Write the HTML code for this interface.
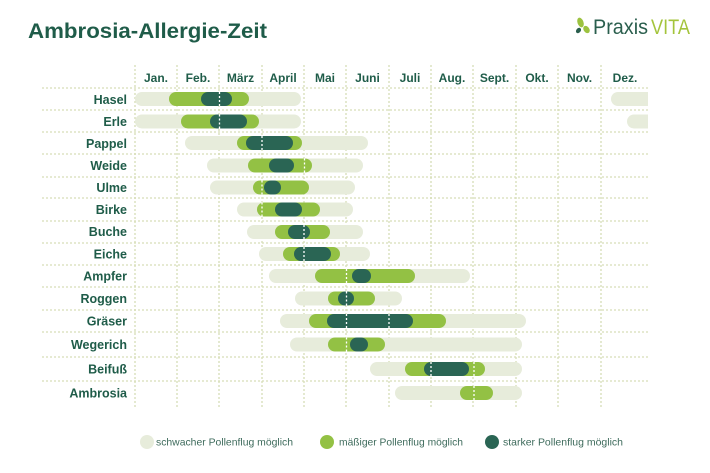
<!DOCTYPE html>
<html><head><meta charset="utf-8"><style>
html,body{margin:0;padding:0;background:#fff;}
svg{display:block;}
text{font-family:"Liberation Sans",sans-serif;}
</style></head><body>
<svg width="710" height="473" viewBox="0 0 710 473" xmlns="http://www.w3.org/2000/svg">
<rect width="710" height="473" fill="#fff"/>
<text x="28" y="38" font-size="21" font-weight="bold" fill="#1f5c49" textLength="239" lengthAdjust="spacingAndGlyphs">Ambrosia-Allergie-Zeit</text>
<!-- logo -->
<ellipse cx="580.5" cy="22.5" rx="3" ry="5" fill="#9cc23f" transform="rotate(-20 580.5 22.5)"/>
<ellipse cx="578.5" cy="30.5" rx="2.2" ry="3" fill="#2a5e4d" transform="rotate(40 578.5 30.5)"/>
<ellipse cx="586.5" cy="29.5" rx="2.8" ry="4" fill="#9cc23f" transform="rotate(-35 586.5 29.5)"/>
<text x="593" y="34" font-size="21" fill="#2a5e4d" textLength="55" lengthAdjust="spacingAndGlyphs">Praxis</text>
<text x="651" y="34" font-size="21" fill="#a4c43c" textLength="39" lengthAdjust="spacingAndGlyphs">VITA</text>
<!-- grid -->
<g stroke="#d6ddb6" stroke-width="1.3" stroke-dasharray="2 2" fill="none">
<line x1="135" y1="65" x2="135" y2="408"/><line x1="177" y1="65" x2="177" y2="408"/>
<line x1="219" y1="65" x2="219" y2="408"/><line x1="262" y1="65" x2="262" y2="408"/>
<line x1="304" y1="65" x2="304" y2="408"/><line x1="346" y1="65" x2="346" y2="408"/>
<line x1="389" y1="65" x2="389" y2="408"/><line x1="431" y1="65" x2="431" y2="408"/>
<line x1="473" y1="65" x2="473" y2="408"/><line x1="516" y1="65" x2="516" y2="408"/>
<line x1="558" y1="65" x2="558" y2="408"/><line x1="601" y1="65" x2="601" y2="408"/>
<line x1="42" y1="88" x2="648" y2="88"/><line x1="42" y1="110" x2="648" y2="110"/>
<line x1="42" y1="132" x2="648" y2="132"/><line x1="42" y1="154" x2="648" y2="154"/>
<line x1="42" y1="177" x2="648" y2="177"/><line x1="42" y1="198" x2="648" y2="198"/>
<line x1="42" y1="221" x2="648" y2="221"/><line x1="42" y1="243" x2="648" y2="243"/>
<line x1="42" y1="265" x2="648" y2="265"/><line x1="42" y1="287" x2="648" y2="287"/>
<line x1="42" y1="310" x2="648" y2="310"/><line x1="42" y1="332" x2="648" y2="332"/>
<line x1="42" y1="357" x2="648" y2="357"/><line x1="42" y1="381" x2="648" y2="381"/>
</g>
<!-- month labels -->
<g font-size="12" font-weight="bold" fill="#1f5c49" text-anchor="middle">
<text x="156" y="82">Jan.</text><text x="198" y="82">Feb.</text><text x="240.5" y="82">März</text>
<text x="283" y="82">April</text><text x="325" y="82">Mai</text><text x="367.5" y="82">Juni</text>
<text x="410" y="82">Juli</text><text x="452" y="82">Aug.</text><text x="494.5" y="82">Sept.</text>
<text x="537" y="82">Okt.</text><text x="579.5" y="82">Nov.</text><text x="625" y="82">Dez.</text>
</g>
<!-- row labels -->
<g font-size="12.5" font-weight="bold" fill="#1f5c49" text-anchor="end">
<text x="127" y="104">Hasel</text><text x="127" y="126">Erle</text><text x="127" y="148">Pappel</text>
<text x="127" y="170">Weide</text><text x="127" y="192">Ulme</text><text x="127" y="214">Birke</text>
<text x="127" y="236">Buche</text><text x="127" y="258.5">Eiche</text><text x="127" y="280.5">Ampfer</text>
<text x="127" y="303">Roggen</text><text x="127" y="325.5">Gräser</text><text x="127" y="349">Wegerich</text>
<text x="127" y="373.5">Beifuß</text><text x="127" y="397.5">Ambrosia</text>
</g>
<defs><clipPath id="c"><rect x="0" y="0" width="648" height="473"/></clipPath></defs>
<g clip-path="url(#c)">
<!-- light bars -->
<g fill="#e7ecdb">
<rect x="135" y="92" width="166" height="14" rx="7"/>
<rect x="611" y="92" width="60" height="14" rx="7"/>
<rect x="135" y="114.5" width="166" height="14" rx="7"/>
<rect x="627" y="114.5" width="60" height="14" rx="7"/>
<rect x="185" y="136" width="183" height="14" rx="7"/>
<rect x="207" y="158.5" width="156" height="14" rx="7"/>
<rect x="210" y="180.5" width="145" height="14" rx="7"/>
<rect x="237" y="202.5" width="116" height="14" rx="7"/>
<rect x="247" y="225" width="116" height="14" rx="7"/>
<rect x="259" y="247" width="111" height="14" rx="7"/>
<rect x="269" y="269" width="201" height="14" rx="7"/>
<rect x="295" y="291.5" width="107" height="14" rx="7"/>
<rect x="280" y="314" width="246" height="14" rx="7"/>
<rect x="290" y="337.5" width="232" height="14" rx="7"/>
<rect x="370" y="362" width="152" height="14" rx="7"/>
<rect x="395" y="386" width="127" height="14" rx="7"/>
</g>
</g>
<!-- medium bars -->
<g fill="#93c144">
<rect x="169" y="92" width="80" height="14" rx="7"/>
<rect x="181" y="114.5" width="78" height="14" rx="7"/>
<rect x="237" y="136" width="65" height="14" rx="7"/>
<rect x="248" y="158.5" width="64" height="14" rx="7"/>
<rect x="253" y="180.5" width="56" height="14" rx="7"/>
<rect x="257" y="202.5" width="63" height="14" rx="7"/>
<rect x="275" y="225" width="55" height="14" rx="7"/>
<rect x="283" y="247" width="57" height="14" rx="7"/>
<rect x="315" y="269" width="100" height="14" rx="7"/>
<rect x="328" y="291.5" width="47" height="14" rx="7"/>
<rect x="309" y="314" width="137" height="14" rx="7"/>
<rect x="328" y="337.5" width="57" height="14" rx="7"/>
<rect x="405" y="362" width="80" height="14" rx="7"/>
<rect x="460" y="386" width="33" height="14" rx="7"/>
</g>
<!-- dark bars -->
<g fill="#2a6554">
<rect x="201" y="92" width="31" height="14" rx="7"/>
<rect x="210" y="114.5" width="37" height="14" rx="7"/>
<rect x="246" y="136" width="47" height="14" rx="7"/>
<rect x="269" y="158.5" width="25" height="14" rx="7"/>
<rect x="264" y="180.5" width="17" height="14" rx="7"/>
<rect x="275" y="202.5" width="27" height="14" rx="7"/>
<rect x="288" y="225" width="22" height="14" rx="7"/>
<rect x="294" y="247" width="37" height="14" rx="7"/>
<rect x="352" y="269" width="19" height="14" rx="7"/>
<rect x="338" y="291.5" width="16" height="14" rx="7"/>
<rect x="327" y="314" width="86" height="14" rx="7"/>
<rect x="350" y="337.5" width="18" height="14" rx="7"/>
<rect x="424" y="362" width="45" height="14" rx="7"/>
</g>
<!-- white dashed markers -->
<g stroke="#ffffff" stroke-width="1.3" stroke-dasharray="2 2">
<line x1="219.5" y1="92" x2="219.5" y2="106"/>
<line x1="219.5" y1="114.5" x2="219.5" y2="128.5"/>
<line x1="262" y1="136" x2="262" y2="150"/>
<line x1="304.5" y1="158.5" x2="304.5" y2="172.5"/>
<line x1="262" y1="180.5" x2="262" y2="194.5"/>
<line x1="262" y1="202.5" x2="262" y2="216.5"/>
<line x1="304" y1="225" x2="304" y2="239"/>
<line x1="304" y1="247" x2="304" y2="261"/>
<line x1="346.5" y1="269" x2="346.5" y2="283"/>
<line x1="346.5" y1="291.5" x2="346.5" y2="305.5"/>
<line x1="346.5" y1="314" x2="346.5" y2="328"/>
<line x1="389" y1="314" x2="389" y2="328"/>
<line x1="346.5" y1="337.5" x2="346.5" y2="351.5"/>
<line x1="431" y1="362" x2="431" y2="376"/>
<line x1="474" y1="362" x2="474" y2="376"/>
<line x1="474" y1="386" x2="474" y2="400"/>
</g>
<!-- legend -->
<circle cx="147" cy="442" r="7" fill="#e7ecdb"/>
<text x="156" y="445.5" font-size="10.5" fill="#3e6b5c" textLength="137" lengthAdjust="spacingAndGlyphs">schwacher Pollenflug möglich</text>
<circle cx="327" cy="442" r="7" fill="#93c144"/>
<text x="339" y="445.5" font-size="10.5" fill="#3e6b5c" textLength="124" lengthAdjust="spacingAndGlyphs">mäßiger Pollenflug möglich</text>
<circle cx="492" cy="442" r="7" fill="#2a6554"/>
<text x="503" y="445.5" font-size="10.5" fill="#3e6b5c" textLength="120" lengthAdjust="spacingAndGlyphs">starker Pollenflug möglich</text>
</svg>
</body></html>
